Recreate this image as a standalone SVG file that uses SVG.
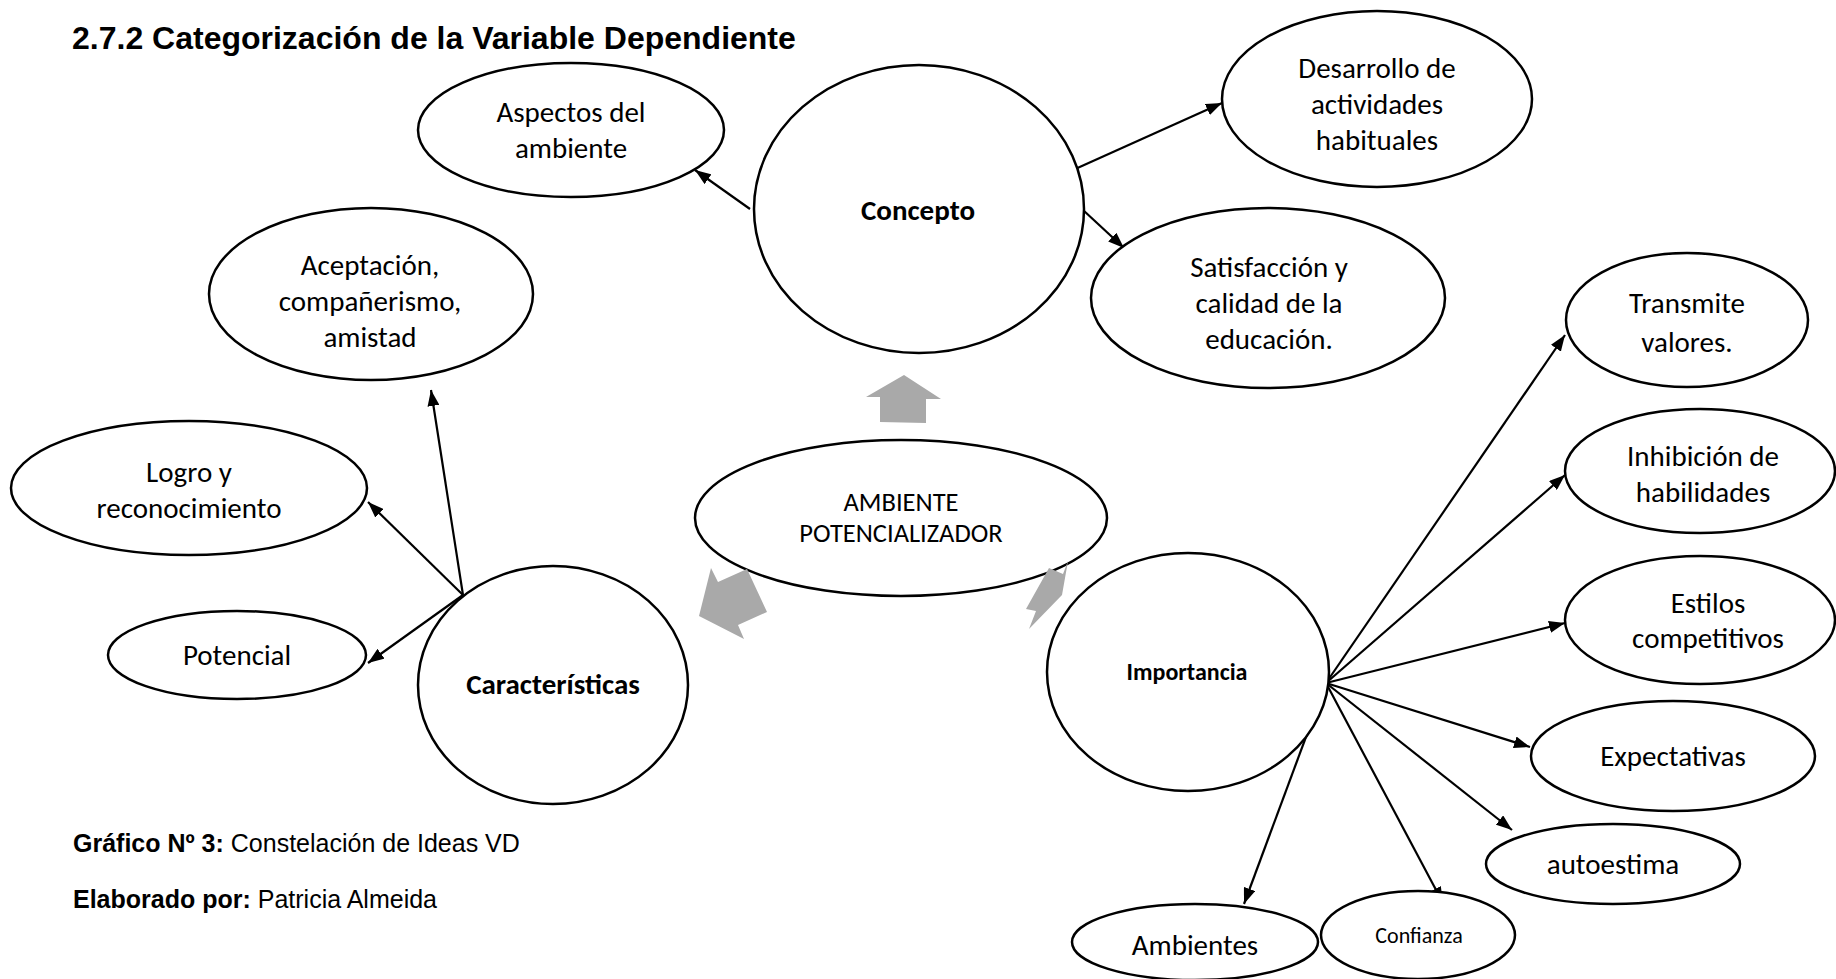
<svg xmlns="http://www.w3.org/2000/svg" width="1836" height="979" viewBox="0 0 1836 979">
<style>
.bg{fill:#ffffff}
.node{fill:#ffffff;stroke:#000;stroke-width:2.5}
.t{font-family:Carlito,"Open Sans",Lato,sans-serif;font-size:29px;fill:#000;text-anchor:middle}
.b{font-weight:bold;font-size:29px}
.amb{font-size:26.5px}
.imp{font-weight:bold;font-size:24px}
.conf{font-size:22px}
.cap{font-family:"Liberation Sans",Arial,sans-serif;fill:#000}
.edge{stroke:#000;stroke-width:2.2;fill:none;marker-end:url(#ah)}
.blk{fill:#a9a9a9;stroke:none}
</style>
<defs>
<marker id="ah" viewBox="0 0 16 12" refX="16" refY="6" markerWidth="16" markerHeight="12" markerUnits="userSpaceOnUse" orient="auto">
<path d="M0,0 L16,6 L0,12 z" fill="#000"/>
</marker>
</defs>
<rect class="bg" x="0" y="0" width="1836" height="979"/>
<text class="cap" x="72" y="49" font-size="32" font-weight="bold">2.7.2 Categorización de la Variable Dependiente</text>

<g id="connectors">
<line class="edge" x1="750" y1="209" x2="695" y2="170"/>
<line class="edge" x1="1073" y1="170" x2="1222" y2="103"/>
<line class="edge" x1="1083" y1="210" x2="1124" y2="248"/>
<line class="edge" x1="463" y1="595" x2="431" y2="390"/>
<line class="edge" x1="463" y1="595" x2="368" y2="502"/>
<line class="edge" x1="463" y1="595" x2="368" y2="663"/>
<line class="edge" x1="1326" y1="683" x2="1565" y2="335"/>
<line class="edge" x1="1326" y1="683" x2="1565" y2="475"/>
<line class="edge" x1="1326" y1="683" x2="1565" y2="623"/>
<line class="edge" x1="1326" y1="683" x2="1530" y2="747"/>
<line class="edge" x1="1326" y1="683" x2="1512" y2="830"/>
<line class="edge" x1="1326" y1="683" x2="1443" y2="903"/>
<line class="edge" x1="1326" y1="683" x2="1244" y2="904"/>
</g>

<g id="n-aspectos">
<ellipse class="node" cx="571" cy="130" rx="153" ry="67"/>
<text class="t" x="571" y="122">Aspectos del</text>
<text class="t" x="571" y="158">ambiente</text>
</g>
<g id="n-concepto">
<ellipse class="node" cx="919" cy="209" rx="165" ry="144"/>
<text class="t b" x="918" y="220">Concepto</text>
</g>
<g id="n-desarrollo">
<ellipse class="node" cx="1377" cy="99" rx="155" ry="88"/>
<text class="t" x="1377" y="78">Desarrollo de</text>
<text class="t" x="1377" y="114">actividades</text>
<text class="t" x="1377" y="150">habituales</text>
</g>
<g id="n-satisfaccion">
<ellipse class="node" cx="1268" cy="298" rx="177" ry="90"/>
<text class="t" x="1269" y="277">Satisfacción y</text>
<text class="t" x="1269" y="313">calidad de la</text>
<text class="t" x="1269" y="349">educación.</text>
</g>
<g id="n-aceptacion">
<ellipse class="node" cx="371" cy="294" rx="162" ry="86"/>
<text class="t" x="370" y="275">Aceptación,</text>
<text class="t" x="370" y="311">compañerismo,</text>
<text class="t" x="370" y="347">amistad</text>
</g>
<g id="n-logro">
<ellipse class="node" cx="189" cy="488" rx="178" ry="67"/>
<text class="t" x="189" y="482">Logro y</text>
<text class="t" x="189" y="518">reconocimiento</text>
</g>
<g id="n-potencial">
<ellipse class="node" cx="237" cy="655" rx="129" ry="44"/>
<text class="t" x="237" y="665">Potencial</text>
</g>
<g id="n-caracteristicas">
<ellipse class="node" cx="553" cy="685" rx="135" ry="119"/>
<text class="t b" x="553" y="694">Características</text>
</g>
<g id="n-ambiente">
<ellipse class="node" cx="901" cy="518" rx="206" ry="78"/>
<text class="t amb" x="901" y="511">AMBIENTE</text>
<text class="t amb" x="901" y="542">POTENCIALIZADOR</text>
</g>
<g id="n-importancia">
<ellipse class="node" cx="1188" cy="672" rx="141" ry="119"/>
<text class="t imp" x="1187" y="680">Importancia</text>
</g>
<g id="n-transmite">
<ellipse class="node" cx="1687" cy="320" rx="121" ry="67"/>
<text class="t" x="1687" y="313">Transmite</text>
<text class="t" x="1687" y="352">valores.</text>
</g>
<g id="n-inhibicion">
<ellipse class="node" cx="1700" cy="471" rx="135" ry="62"/>
<text class="t" x="1703" y="466">Inhibición de</text>
<text class="t" x="1703" y="502">habilidades</text>
</g>
<g id="n-estilos">
<ellipse class="node" cx="1700" cy="620" rx="135" ry="64"/>
<text class="t" x="1708" y="613">Estilos</text>
<text class="t" x="1708" y="648">competitivos</text>
</g>
<g id="n-expectativas">
<ellipse class="node" cx="1673" cy="756" rx="142" ry="55"/>
<text class="t" x="1673" y="766">Expectativas</text>
</g>
<g id="n-autoestima">
<ellipse class="node" cx="1613" cy="864" rx="127" ry="40"/>
<text class="t" x="1613" y="874">autoestima</text>
</g>
<g id="n-ambientes">
<ellipse class="node" cx="1195" cy="942" rx="123" ry="38"/>
<text class="t" x="1195" y="955">Ambientes</text>
</g>
<g id="n-confianza">
<ellipse class="node" cx="1418" cy="935" rx="97" ry="44"/>
<text class="t conf" x="1419" y="943">Confianza</text>
</g>

<g id="block-arrows">
<polygon class="blk" points="904,375 941,399 926,399 926,423 880,422 880,397 866,397"/>
<polygon class="blk" points="711,568 718,582 747,569 767,612 738,625 744,639 699,616"/>
<polygon class="blk" points="1049,568 1063,574 1068,561 1062,595 1029,629 1036,611 1026,609"/>
</g>

<g id="caption">
<text class="cap" x="73" y="852" font-size="25"><tspan font-weight="bold">Gráfico Nº 3:</tspan> Constelación de Ideas VD</text>
<text class="cap" x="73" y="908" font-size="25"><tspan font-weight="bold">Elaborado por:</tspan> Patricia Almeida</text>
</g>
</svg>
